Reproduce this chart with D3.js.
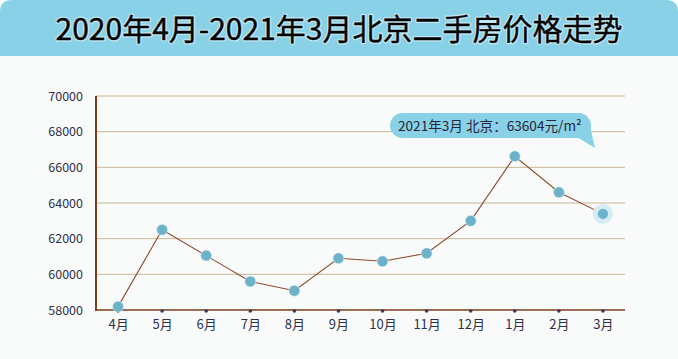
<!DOCTYPE html>
<html><head><meta charset="utf-8">
<script src="https://cdn.jsdelivr.net/npm/d3@7"></script>
<style>html,body{margin:0;padding:0;background:#fff;}svg{display:block;}</style>
</head><body>
<svg id="c" width="678" height="359"></svg>
<script>
const titleText = "2020年4月-2021年3月北京二手房价格走势";
const months = ["4月","5月","6月","7月","8月","9月","10月","11月","12月","1月","2月","3月"];
const prices = [58190, 62500, 61050, 59600, 59080, 60900, 60730, 61180, 63000, 66620, 64600, 63390];
const yTicks = [58000, 60000, 62000, 64000, 66000, 68000, 70000];
const tipText = "2021年3月 北京：63604元/m²";
const tipIndex = 11;

(function(){
const svg = d3.select("#c");
const W = 678, H = 359;
const font = "'Noto Sans CJK SC','Noto Sans',sans-serif";

svg.append("rect").attr("x",0).attr("y",0).attr("width",W).attr("height",H).attr("fill","#ffffff");
svg.append("path")
  .attr("d", `M0,12 Q0,0 12,0 L${W-12},0 Q${W},0 ${W},12 L${W},${H} L0,${H} Z`)
  .attr("fill","#f9fbfb");
svg.append("path")
  .attr("d", `M0,12 Q0,0 12,0 L${W-12},0 Q${W},0 ${W},12 L${W},56 L0,56 Z`)
  .attr("fill","#89d1e7");

const tg = svg.append("g");
tg.append("text").attr("x",339).attr("y",40).attr("text-anchor","middle")
  .attr("font-family",font).attr("font-size",30).attr("font-weight",400)
  .attr("fill","none").attr("stroke","#ffffff").attr("stroke-width",3).attr("stroke-linejoin","round")
  .attr("opacity",0.5).text(titleText);
tg.append("text").attr("x",339).attr("y",40).attr("text-anchor","middle")
  .attr("font-family",font).attr("font-size",30).attr("font-weight",400)
  .attr("fill","#050505").attr("stroke","#050505").attr("stroke-width",0.4).text(titleText);

const pl = 96, pr = 625, pt = 96, pb = 310;
const x = d3.scalePoint().domain(months).range([pl, pr]).padding(0.5);
const y = d3.scaleLinear().domain([58000, 70000]).range([pb, pt]);

svg.append("g").selectAll("line").data(yTicks.filter(t => t > 58000)).join("line")
  .attr("x1", pl).attr("x2", pr)
  .attr("y1", d => y(d)).attr("y2", d => y(d))
  .attr("stroke","#c9b596").attr("stroke-width",1);

const yAxis = d3.axisLeft(y).tickValues(yTicks).tickSize(0).tickPadding(13).tickFormat(d3.format("d"));
const ya = svg.append("g").attr("transform",`translate(${pl},0)`).call(yAxis);
ya.select(".domain").remove();
ya.selectAll("text").attr("font-family",font).attr("font-size",12.5).attr("fill","#2f2f3f");

const xAxis = d3.axisBottom(x).tickSize(0).tickPadding(10);
const xa = svg.append("g").attr("transform",`translate(0,${pb})`).call(xAxis);
xa.select(".domain").remove();
xa.selectAll("text").attr("font-family",font).attr("font-size",13).attr("fill","#2f2f4a");

svg.append("line").attr("x1",pl).attr("x2",pl).attr("y1",pt).attr("y2",pb+1)
  .attr("stroke","#7a3d1c").attr("stroke-width",2);
svg.append("line").attr("x1",pl-1).attr("x2",pr).attr("y1",pb).attr("y2",pb)
  .attr("stroke","#7a3d1c").attr("stroke-width",1.5);

svg.append("g").selectAll("circle").data(months).join("circle")
  .attr("cx", d => x(d)).attr("cy", pb+1).attr("r",1.8).attr("fill","#3a3a5c");

const line = d3.line().x((d,i) => x(months[i])).y(d => y(d));
svg.append("path").datum(prices).attr("d", line)
  .attr("fill","none").attr("stroke","#8b4a2b").attr("stroke-width",1.1);

svg.append("circle").attr("cx", x(months[tipIndex])).attr("cy", y(prices[tipIndex]))
  .attr("r",10).attr("fill","#d6ebf2");

svg.append("g").selectAll("circle").data(prices).join("circle")
  .attr("cx",(d,i) => x(months[i])).attr("cy", d => y(d)).attr("r",5.5)
  .attr("fill","#6cb3c9").attr("stroke","#e8f4f8").attr("stroke-width",0.6);

const tip = svg.append("g");
tip.append("path").attr("d","M572,134 L589,122 L595,148 Z").attr("fill","#89d1e7");
tip.append("rect").attr("x",390).attr("y",113).attr("width",201).attr("height",25).attr("rx",12.5)
  .attr("fill","#89d1e7");
tip.append("text").attr("x",398).attr("y",130.5).attr("font-family",font).attr("font-size",13.6)
  .attr("fill","#26263a").text(tipText);
})();
</script>
</body></html>
